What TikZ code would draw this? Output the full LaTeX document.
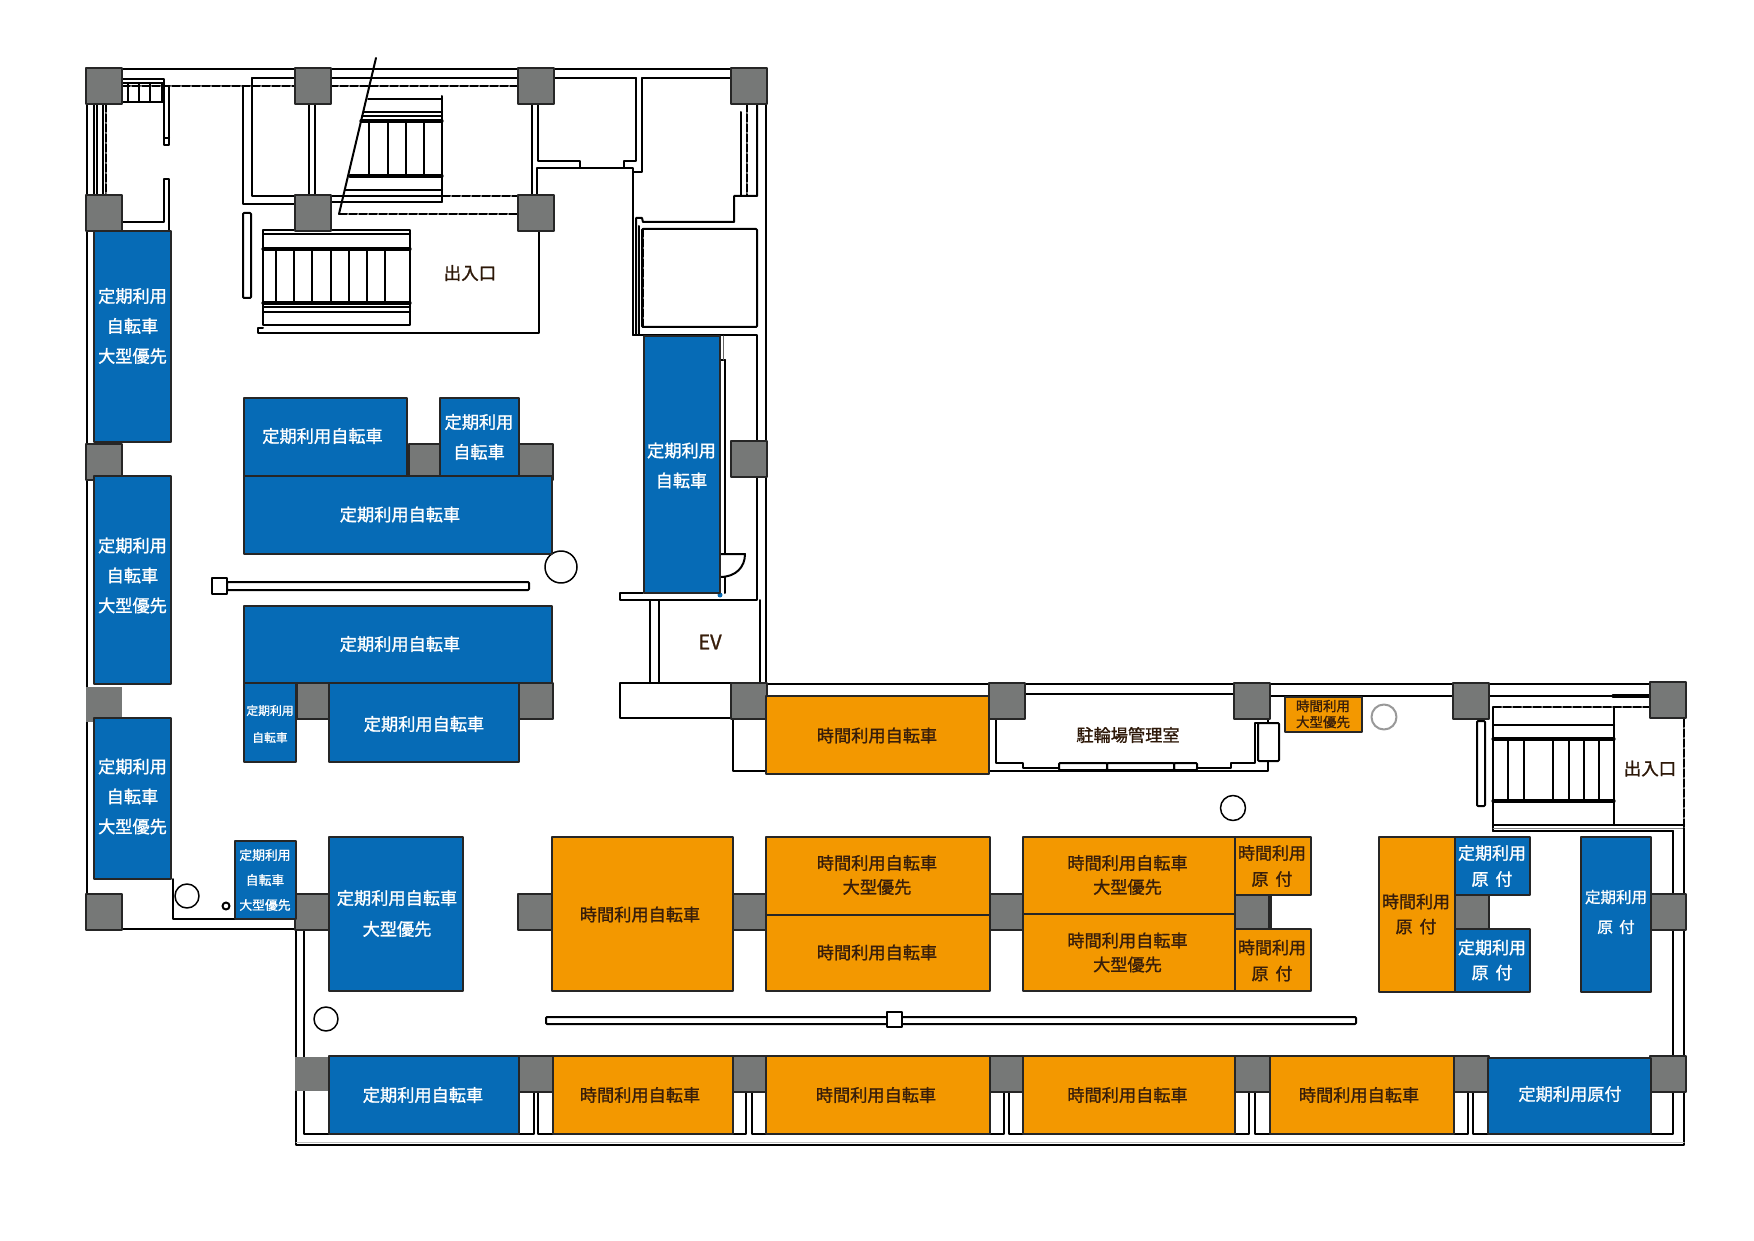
\documentclass[tikz,border=0pt]{standalone}
\usepackage{fontspec}
\setmainfont{Noto Sans CJK JP}[WordSpace=1.8,FakeBold=1.2]
\definecolor{teikiblue}{RGB}{6,107,182}
\definecolor{jikanorange}{RGB}{243,152,0}
\definecolor{pillargray}{RGB}{118,120,119}
\definecolor{labelbrown}{RGB}{56,30,10}
\newcommand{\fs}[2]{\fontsize{#1}{#2}\selectfont}
\tikzset{
  wall/.style={line width=2pt},
  heavy/.style={line width=3.2pt},
  dashwall/.style={line width=2pt,dash pattern=on 8pt off 2pt},
  pillar/.style={fill=pillargray,draw=black!85,line width=2pt},
  teiki/.style={fill=teikiblue,draw=black!85,line width=2pt},
  jikan/.style={fill=jikanorange,draw=black!85,line width=2pt},
  wlab/.style={text=white,align=center,inner sep=0pt,font=\fs{17.2}{30}},
  olab/.style={text=labelbrown,align=center,inner sep=0pt,font=\fs{17.2}{24}},
  klab/.style={text=labelbrown!80!black,align=center,inner sep=0pt,font=\fs{17.5}{24}}
}
\begin{document}
\begin{tikzpicture}[line cap=round,line join=round,x=1pt,y=-1pt]
\useasboundingbox (0,0) rectangle (1754,1241);

% upper block, outer walls
\draw [wall] (122,69)-- (731,69);
\draw [wall] (87,104)-- (87,894);
\draw [wall] (766,104)-- (766,683);
\draw [wall] (252,78)-- (295,78);
\draw [wall] (330,78)-- (518,78);
\draw [wall] (553,78)-- (636,78);
\draw [wall] (642,78)-- (731,78);
\draw [dashwall] (122,86)-- (295,86);
\draw [dashwall] (330,86)-- (518,86);

% small stair and left walls
\draw [wall] (122,79)-- (164,79)-- (164,145)-- (169,145)-- (169,86);
\draw [wall] (122,83)-- (164,83);
\draw [wall] (122,102)-- (164,102);
\draw [wall] (164,138)-- (169,138);
\foreach \x in {128,139,150,162}
  \draw [wall] (\x,83)-- (\x,102);
\draw [wall] (122,222)-- (164,222)-- (164,179)-- (169,179)-- (169,230);
\draw [wall] (94,104)-- (94,195);
\draw [wall] (97,104)-- (97,195);
\draw [wall] (103,104)-- (103,195);
\draw [dashwall] (106,104)-- (106,195);

% walls round the second pillar
\draw [wall] (243,86)-- (243,204)-- (295,204);
\draw [wall] (252,78)-- (252,196)-- (295,196);
\draw [wall] (309,104)-- (309,195);
\draw [wall] (315,104)-- (315,195);
\draw [wall] (330,196)-- (442,196);
\draw [dashwall] (442,196)-- (518,196);
\draw [wall] (330,202)-- (442,202);
\draw [dashwall] (339,214)-- (518,214);

% upper escalator
\draw [wall] (442,96)-- (442,202);
\draw [wall] (368,99)-- (442,99);
\draw [wall] (364,112)-- (442,112);
\draw [wall] (362,116)-- (442,116);
\draw [heavy] (361,121)-- (442,121);
\draw [heavy] (350,176)-- (442,176);
\draw [wall] (345,190)-- (442,190);
\foreach \x in {369,388,406,424}
  \draw [wall] (\x,121)-- (\x,176);
\draw [wall] (376,58)-- (339,214);

% lower escalator
\draw [wall] (263,230) rectangle (410,325);
\draw [wall] (263,234)-- (410,234);
\draw [heavy] (263,249)-- (410,249);
\draw [heavy] (263,303)-- (410,303);
\draw [wall] (263,307)-- (410,307);
\draw [wall] (263,312)-- (410,312);
\foreach \x in {276,294,312,331,349,367,385}
  \draw [wall] (\x,249)-- (\x,303);
\draw [wall] (263,328)-- (258,328)-- (258,333)-- (539,333)-- (539,231);
\draw [wall,rounded corners=1pt] (243,213) rectangle (251,298);

% rooms on the right of the upper block
\draw [wall] (532,104)-- (532,195);
\draw [wall] (538,104)-- (538,161)-- (580,161)-- (580,168);
\draw [wall] (537,195)-- (537,168)-- (633,168)-- (633,335);
\draw [wall] (624,168)-- (624,161)-- (636,161)-- (636,78);
\draw [wall] (633,172)-- (642,172)-- (642,78);
\draw [wall] (636,335)-- (636,218)-- (642,218)-- (643,222)-- (734,222)-- (734,196)-- (757,196)-- (757,104);
\draw [wall] (741,112)-- (741,196);
\draw [dashwall] (747,104)-- (747,196);
\draw [wall] (639,226)-- (639,335);
\draw [dashwall] (643,229)-- (643,327);
\draw [wall,rounded corners=1pt] (642,229) rectangle (757,327);
\draw [wall] (633,335)-- (757,335)-- (757,600)-- (620,600)-- (620,593)-- (643,593);
\draw [wall] (760,600)-- (760,683);

% door beside the long bay
\draw [wall] (725,360)-- (725,554);
\draw [wall] (725,577)-- (725,593);
\draw [wall] (720,360)-- (725,360);
\draw [wall,line width=1pt,draw=black!60] (723,336)-- (723,360);
\draw [wall] (720,554)-- (745,554) .. controls (745,567) and (736,577) .. (720,577);
\fill [teikiblue] (720,595) circle (2.5pt);

% lift
\draw [wall] (650,600)-- (650,683);
\draw [wall] (659,600)-- (659,683);
\draw [wall] (620,683) rectangle (732,718);
\draw [wall] (733,719)-- (733,771)-- (766,771);
\node [text=labelbrown,inner sep=0pt,font=\fs{20}{20}] (ev) at (710,642) {EV};

% lower block, top walls
\draw [wall] (767,684)-- (989,684);
\draw [wall] (1024,684)-- (1234,684);
\draw [wall] (1270,684)-- (1453,684);
\draw [wall] (1489,684)-- (1650,684);
\draw [wall] (1024,694)-- (1234,694);
\draw [wall] (1270,696)-- (1453,696);
\draw [wall] (1489,696)-- (1650,696);
\draw [heavy] (1613,696)-- (1650,696);

% office
\draw [wall] (996,719)-- (996,763)-- (1023,763)-- (1023,768)-- (1059,768);
\draw [wall,rounded corners=1pt] (1059,763) rectangle (1107,770);
\draw [wall,rounded corners=1pt] (1107,763) rectangle (1174,770);
\draw [wall,rounded corners=1pt] (1174,763) rectangle (1197,770);
\draw [wall] (1197,768)-- (1231,768)-- (1231,763)-- (1255,763)-- (1255,723)-- (1268,723)-- (1268,719);
\draw [wall] (989,771)-- (1268,771)-- (1268,762);
\draw [wall,rounded corners=1pt] (1258,723) rectangle (1279,761);
\node [klab,font=\fs{17.2}{24}] (office) at (1128,735) {駐輪場管理室};

% right stair
\draw [wall] (1493,831)-- (1493,707);
\draw [dashwall] (1493,707)-- (1650,707);
\draw [wall] (1493,725)-- (1614,725);
\draw [heavy] (1493,739)-- (1614,739);
\draw [heavy] (1493,801)-- (1614,801);
\draw [wall] (1614,707)-- (1614,825);
\foreach \x in {1508,1524,1553,1569,1584,1599}
  \draw [wall] (\x,739)-- (\x,801);
\draw [wall] (1493,825)-- (1684,825);
\draw [wall] (1493,831)-- (1673,831);
\draw [wall,line width=1pt,draw=black!50] (1493,828)-- (1684,828);
\draw [dashwall] (1684,719)-- (1684,828);
\draw [wall,rounded corners=1pt] (1477,721) rectangle (1485,806);
\node [klab] (door2) at (1650,768.5) {出入口};

% outer walls, lower block
\draw [wall] (173,879)-- (173,919)-- (235,919);
\draw [wall] (122,929)-- (295,929);
\draw [wall] (296,931)-- (296,1145)-- (1684,1145)-- (1684,828);
\draw [line width=1pt,draw=black!25] (296,1142.5)-- (1684,1142.5);
\draw [wall] (304,931)-- (304,1134)-- (534,1134)-- (534,1091);
\draw [wall] (538,1091)-- (538,1134)-- (746,1134)-- (746,1091);
\draw [wall] (752,1091)-- (752,1134)-- (1004,1134)-- (1004,1091);
\draw [wall] (1009,1091)-- (1009,1134)-- (1249,1134)-- (1249,1091);
\draw [wall] (1255,1091)-- (1255,1134)-- (1468,1134)-- (1468,1091);
\draw [wall] (1473,1091)-- (1473,1134)-- (1673,1134)-- (1673,831);

% circles and bars
\draw [wall,line width=1.5pt] (561,567) circle (16);
\draw [wall,line width=1.5pt] (1233,808) circle (12.5);
\draw [wall,draw=black!40] (1384,717) circle (12.5);
\draw [wall,line width=1.5pt] (187,896) circle (12);
\draw [wall] (226,906) circle (3.5);
\draw [wall,line width=1.5pt] (326,1019) circle (12);
\draw [wall,rounded corners=1pt] (227,582) rectangle (529,590);
\draw [wall] (212,578) rectangle (227,594);
\draw [wall,rounded corners=1pt] (546,1017) rectangle (1356,1024);
\draw [wall,fill=white] (887,1012) rectangle (902,1027);
\node [klab] (door1) at (470,273) {出入口};

% pillars
\foreach \x/\y in {86/68,295/68,518/68,731/68,86/195,295/195,518/195,
    86/444,731/441,409/444,86/894,
    731/683,989/683,1234/683,1453/683,1650/682,
    295/894,518/894,731/894,989/894,1235/894,1453/894,1650/894,
    518/1056,732/1056,989/1056,1234/1056,1453/1056,1650/1056}
  \draw [pillar] (\x,\y) rectangle +(36,36);
\draw [pillar] (519,444) rectangle +(34,36);
\fill [pillargray] (86,687) rectangle +(36,35);
\fill [pillargray] (295,1057) rectangle +(34,34);
\draw [pillar] (297,683) rectangle +(32,36);
\draw [pillar] (519,683) rectangle +(34,36);
\draw [pillar] (1235,894) rectangle +(34,35);
\fill [pillargray] (1455,895) rectangle +(33,34);

% season ticket bays
\draw [teiki] (94,231) rectangle (171,442);
\draw [teiki] (94,476) rectangle (171,684);
\draw [teiki] (94,718) rectangle (171,879);
\draw [teiki] (244,397.5) rectangle (407,476);
\draw [teiki] (440,397.5) rectangle (519,476);
\draw [teiki] (244,476) rectangle (552,554);
\draw [teiki] (644,336) rectangle (720,593);
\draw [teiki] (244,606) rectangle (552,683);
\draw [teiki] (244,683) rectangle (296,762);
\draw [teiki] (329,683) rectangle (519,762);
\draw [teiki] (235,841) rectangle (296,919);
\draw [teiki] (329,837) rectangle (463,991);
\draw [teiki] (329,1056) rectangle (519,1134);
\draw [teiki] (1488,1058) rectangle (1651,1134);
\draw [teiki] (1581,837) rectangle (1651,992);
\draw [teiki] (1455,837) rectangle (1530,895);
\draw [teiki] (1455,929) rectangle (1530,992);

% hourly bays
\draw [jikan] (766,696) rectangle (989,774);
\draw [jikan] (1285,697) rectangle (1362,732);
\draw [jikan] (552,837) rectangle (733,991);
\draw [jikan] (766,837) rectangle (990,915);
\draw [jikan] (766,915) rectangle (990,991);
\draw [jikan] (1023,837) rectangle (1235,914);
\draw [jikan] (1023,914) rectangle (1235,991);
\draw [jikan] (1235,837) rectangle (1311,895);
\draw [jikan] (1235,929) rectangle (1311,991);
\draw [jikan] (1379,837) rectangle (1455,992);
\draw [jikan] (553,1056) rectangle (733,1134);
\draw [jikan] (766,1056) rectangle (990,1134);
\draw [jikan] (1023,1056) rectangle (1235,1134);
\draw [jikan] (1270,1056) rectangle (1454,1134);

% season ticket labels
\node [wlab] (lbA) at (132.5,326) {定期利用\\自転車\\大型優先};
\node [wlab] (lbB) at (132.5,575.5) {定期利用\\自転車\\大型優先};
\node [wlab] (lbC) at (132.5,796.5) {定期利用\\自転車\\大型優先};
\node [wlab] (lbD) at (322.5,436) {定期利用自転車};
\node [wlab] (lbE) at (479,437) {定期利用\\自転車};
\node [wlab] (lbF) at (400,514.5) {定期利用自転車};
\node [wlab] (lbG) at (681.5,465.5) {定期利用\\自転車};
\node [wlab] (lbH) at (400,644) {定期利用自転車};
\node [wlab,font=\fs{11.8}{27}] (lbI) at (270,724) {定期利用\\自転車};
\node [wlab] (lbJ) at (424,724) {定期利用自転車};
\node [wlab,font=\fs{12.8}{25}] (lbK) at (265,880) {定期利用\\自転車\\大型優先};
\node [wlab,font=\fs{17.2}{31}] (lbL) at (397,913.5) {定期利用自転車\\大型優先};
\node [wlab] (lbM) at (423,1095) {定期利用自転車};
\node [wlab] (lbN) at (1570,1094) {定期利用原付};
\node [wlab,font=\fs{15.5}{30}] (lbO) at (1616,912) {定期利用\\原 付};
\node [wlab,font=\fs{17}{26}] (lbP) at (1492,866) {定期利用\\原 付};
\node [wlab,font=\fs{17}{25}] (lbQ) at (1492,960) {定期利用\\原 付};

% hourly labels
\node [olab] (laa) at (877,735.5) {時間利用自転車};
\node [olab,font=\fs{13.5}{16}] (lab) at (1323,714) {時間利用\\大型優先};
\node [olab] (lac) at (640,914.5) {時間利用自転車};
\node [olab] (lad) at (877,875) {時間利用自転車\\大型優先};
\node [olab] (lae) at (877,952.5) {時間利用自転車};
\node [olab] (laf) at (1127.5,875) {時間利用自転車\\大型優先};
\node [olab] (lag) at (1127.5,952.5) {時間利用自転車\\大型優先};
\node [olab,font=\fs{17}{26}] (lah) at (1272,866) {時間利用\\原 付};
\node [olab,font=\fs{17}{26}] (lai) at (1272,960.5) {時間利用\\原 付};
\node [olab,font=\fs{17}{25}] (laj) at (1416,914) {時間利用\\原 付};
\node [olab] (lak) at (640,1095) {時間利用自転車};
\node [olab] (lal) at (876,1095) {時間利用自転車};
\node [olab] (lam) at (1127.5,1095) {時間利用自転車};
\node [olab] (lan) at (1359,1095) {時間利用自転車};
\end{tikzpicture}
\end{document}
